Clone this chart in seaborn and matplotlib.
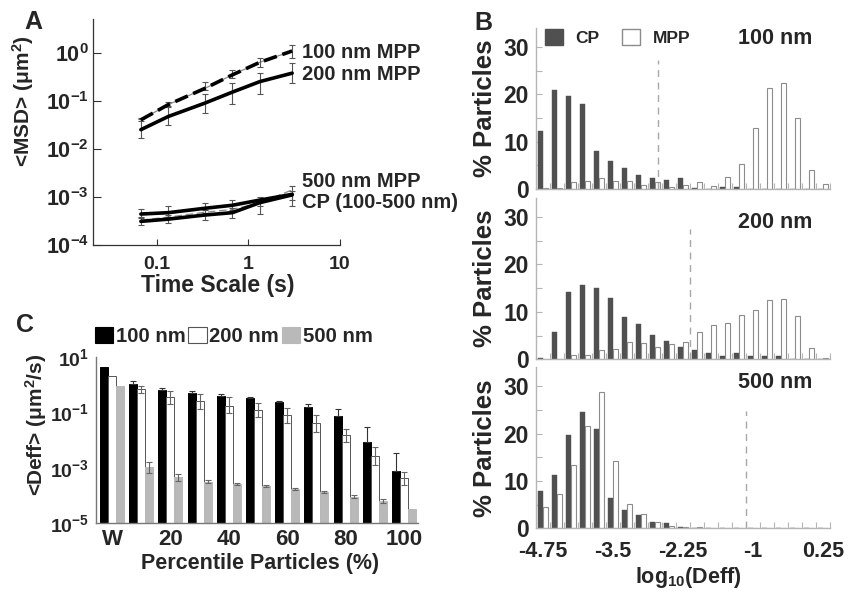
import numpy as np
import pandas as pd
import matplotlib
matplotlib.use("Agg")
import matplotlib.pyplot as plt
from matplotlib.patches import Patch
from matplotlib.ticker import NullLocator, FixedLocator
from matplotlib.transforms import ScaledTranslation
import seaborn as sns

# ---------------- Panel A data: MSD vs time scale ----------------
time_s = [0.0667, 0.133, 0.333, 0.667, 1.333, 3.0]
msd_100_mpp = [0.040, 0.083, 0.18, 0.345, 0.63, 1.08]
msd_100_lo = [0.037, 0.078, 0.17, 0.295, 0.50, 0.79]
msd_100_hi = [0.043, 0.095, 0.24, 0.44, 0.79, 1.44]
msd_200_mpp = [0.025, 0.047, 0.089, 0.151, 0.25, 0.374]
msd_200_lo = [0.017, 0.031, 0.056, 0.085, 0.138, 0.23]
msd_200_hi = [0.042, 0.073, 0.138, 0.23, 0.37, 0.60]
msd_500_mpp = [4.4e-4, 4.7e-4, 5.8e-4, 6.7e-4, 8.6e-4, 1.13e-3]
msd_500_lo = [3.6e-4, 3.9e-4, 4.6e-4, 5.3e-4, 6.6e-4, 8.5e-4]
msd_500_hi = [5.5e-4, 6.5e-4, 7.4e-4, 8.5e-4, 1.0e-3, 1.7e-3]
msd_cp = [3.1e-4, 3.45e-4, 4.2e-4, 4.7e-4, 7.6e-4, 1.1e-3]
msd_cp_lo = [2.6e-4, 2.9e-4, 3.3e-4, 3.6e-4, 4.5e-4, 6.5e-4]
msd_cp_hi = [3.8e-4, 4.3e-4, 5.3e-4, 6.0e-4, 8.5e-4, 1.3e-3]
msd_cp_alt = [3.3e-4, 3.8e-4, 4.8e-4, 5.5e-4, 7.5e-4, 1.4e-3]
labels_a = ["100 nm MPP", "200 nm MPP", "500 nm MPP", "CP (100-500 nm)"]

# ---------------- Panel B data: distributions of log10(Deff) ----------------
log_deff_bins = [-4.75, -4.5, -4.25, -4.0, -3.75, -3.5, -3.25, -3.0, -2.75, -2.5, -2.25,
                 -2.0, -1.75, -1.5, -1.25, -1.0, -0.75, -0.5, -0.25, 0.0, 0.25]
cp_100 = [12.2, 21.0, 19.6, 17.9, 8.1, 5.9, 4.4, 3.0, 2.3, 2.0, 2.3,
          0.15, 0.1, 0.35, 0.35, 0, 0, 0, 0, 0, 0]
mpp_100 = [0.3, 0.3, 1.5, 1.7, 2.3, 1.7, 1.7, 0.85, 1.5, 0.5, 0.85,
           1.5, 0.7, 2.6, 5.3, 12.9, 21.4, 22.4, 15.0, 4.1, 1.1]
cp_200 = [0.35, 5.7, 14.1, 15.6, 15.0, 13.0, 8.9, 7.5, 5.1, 3.8, 2.6,
          2.0, 1.3, 0.7, 1.3, 0.6, 0.7, 0.6, 0, 0, 0]
mpp_200 = [0, 0, 1.0, 1.0, 1.9, 2.1, 3.6, 3.4, 2.5, 3.2, 3.6,
           5.8, 7.3, 7.7, 9.4, 10.4, 12.6, 12.8, 9.1, 2.3, 0.2]
cp_500 = [7.9, 11.3, 19.7, 24.5, 20.9, 6.4, 3.8, 2.8, 1.3, 1.1, 0.2,
          0.15, 0, 0, 0, 0, 0, 0, 0, 0, 0]
mpp_500 = [4.4, 7.2, 13.4, 21.6, 28.7, 14.3, 5.1, 3.0, 1.4, 0.4, 0.25,
           0.2, 0, 0, 0, 0, 0, 0, 0, 0, 0]
thresholds = [-2.70, -2.125, -1.125]
threshold_tops = [27.3, 27.4, 24.7]
size_labels_b = ["100 nm", "200 nm", "500 nm"]
b_xtick_vals = [-4.75, -3.5, -2.25, -1.0, 0.25]
b_xtick_labels = ["-4.75", "-3.5", "-2.25", "-1", "0.25"]

# ---------------- Panel C data: <Deff> by percentile ----------------
percentiles = ["W", "10", "20", "30", "40", "50", "60", "70", "80", "90", "100"]
deff_100 = [4.1, 1.04, 0.63, 0.50, 0.40, 0.32, 0.24, 0.16, 0.073, 0.0083, 0.00076]
deff_100_hi = [4.1, 1.33, 0.77, 0.58, 0.45, 0.34, 0.26, 0.19, 0.134, 0.030, 0.0033]
deff_200 = [2.07, 0.66, 0.34, 0.26, 0.17, 0.12, 0.079, 0.040, 0.015, 0.0026, 0.00042]
deff_200_lo = [2.07, 0.48, 0.197, 0.13, 0.091, 0.065, 0.042, 0.020, 0.0087, 0.00126, 0.00024]
deff_200_hi = [2.07, 0.88, 0.58, 0.45, 0.34, 0.22, 0.146, 0.079, 0.025, 0.0054, 0.00072]
deff_500 = [0.88, 0.00104, 0.00045, 0.00032, 0.00026, 0.00022, 0.00017, 0.00013,
            0.000091, 0.000065, 0.0000316]
deff_500_lo = [0.88, 0.00063, 0.00034, 0.00028, 0.00023, 0.000204, 0.000162, 0.000120,
               0.0000795, 0.0000555, 0.0000316]
deff_500_hi = [0.88, 0.00166, 0.00062, 0.00036, 0.00029, 0.00024, 0.000186, 0.000141,
               0.000105, 0.0000776, 0.0000316]
sizes_c = ["100 nm", "200 nm", "500 nm"]

# ---------------- style ----------------
sns.set_theme(style="ticks")
plt.rcParams.update({
    "font.family": ["Liberation Sans", "DejaVu Sans"],
    "font.weight": "bold",
    "axes.labelweight": "bold",
    "mathtext.fontset": "custom",
    "mathtext.rm": "Liberation Sans:bold",
    "mathtext.bf": "Liberation Sans:bold",
    "mathtext.it": "Liberation Sans:bold:italic",
    "mathtext.sf": "Liberation Sans:bold",
    "mathtext.default": "rm",
    "axes.unicode_minus": False,
    "xtick.direction": "in",
    "ytick.direction": "in",
})

W, H = 849, 593
fig = plt.figure(figsize=(W / 100, H / 100), dpi=100)
fig.patch.set_facecolor("white")


def fx(px):
    return px / W


def fy(py):
    return 1 - py / H


def shift_labels(labels, dy_pt):
    for lab in labels:
        lab.set_transform(lab.get_transform() + ScaledTranslation(0, dy_pt / 72, fig.dpi_scale_trans))


# ================= Panel A =================
axA = fig.add_axes([fx(93), fy(245), (340 - 93) / W, (245 - 19) / H])
series_a = [
    (msd_100_mpp, msd_100_lo, msd_100_hi, "dash"),
    (msd_200_mpp, msd_200_lo, msd_200_hi, "solid"),
    (msd_500_mpp, msd_500_lo, msd_500_hi, "solid"),
    (msd_cp, msd_cp_lo, msd_cp_hi, "solid"),
]
sns.lineplot(x=time_s, y=msd_cp_alt, ax=axA, color="#8a8a8a", linewidth=0.9,
             linestyle=(0, (6, 3)), legend=False)
sns.lineplot(x=time_s, y=msd_100_mpp, ax=axA, color="#8a8a8a", linewidth=0.9, legend=False)
for vals, lo, hi, style in series_a:
    v = np.array(vals)
    err = [v - np.array(lo), np.array(hi) - v]
    axA.errorbar(time_s, vals, yerr=err, fmt="none", ecolor="#555555",
                 elinewidth=0.8, capsize=2.5, capthick=0.8, zorder=3)
    ls = (0, (3.8, 1.6)) if style == "dash" else "-"
    sns.lineplot(x=time_s, y=vals, ax=axA, color="black", linewidth=2.6,
                 linestyle=ls, legend=False, zorder=4)
axA.set_xscale("log")
axA.set_yscale("log")
axA.set_xlim(0.02, 10)
axA.set_ylim(1e-4, 5)
axA.xaxis.set_major_locator(FixedLocator([0.1, 1, 10]))
axA.xaxis.set_minor_locator(NullLocator())
axA.yaxis.set_major_locator(FixedLocator([1e-4, 1e-3, 1e-2, 1e-1, 1]))
axA.yaxis.set_minor_locator(NullLocator())
axA.set_xticklabels(["0.1", "1", "10"], fontsize=14)
axA.set_yticklabels([r"$10^{-4}$", r"$10^{-3}$", r"$10^{-2}$", r"$10^{-1}$", r"$10^{0}$"], fontsize=15.5)
shift_labels(axA.get_yticklabels(), -3.5)
axA.tick_params(axis="y", length=6, width=0.8, color="#333333", pad=3)
axA.tick_params(axis="x", length=4.5, width=0.8, color="#333333", pad=8)
for s in ["top", "right"]:
    axA.spines[s].set_visible(False)
for s in ["left", "bottom"]:
    axA.spines[s].set_color("#333333")
    axA.spines[s].set_linewidth(0.9)
axA.set_xlabel("Time Scale (s)", fontsize=16.5)
axA.xaxis.set_label_coords((218 - 93) / (340 - 93), -(285 - 245) / (245 - 19))
axA.xaxis.label.set_va("center")
axA.set_ylabel(r"<MSD> ($\mu$m$^{2}$)", fontsize=15, va="center")
axA.yaxis.set_label_coords((23 - 93) / (340 - 93), (245 - 101) / (245 - 19))
label_y_a = [52, 75, 182, 203]
for txt, py in zip(labels_a, label_y_a):
    fig.text(fx(302), fy(py), txt, fontsize=14.5, fontweight="bold", va="center", ha="left")
fig.text(fx(33), fy(22), "A", fontsize=18, fontweight="bold", ha="center", va="center")

# ================= Panel B =================
b_tops = [28, 198, 367.3]
b_bottoms = [189, 359.3, 528.3]
cp_list = [cp_100, cp_200, cp_500]
mpp_list = [mpp_100, mpp_200, mpp_500]
size_text_y = [38, 222, 383]
palette_b = {"CP": "#505050", "MPP": "white"}
axes_b = []
for i in range(3):
    ax = fig.add_axes([fx(536), fy(b_bottoms[i]), 294 / W, (b_bottoms[i] - b_tops[i]) / H])
    axes_b.append(ax)
    df = pd.DataFrame({
        "log_deff": log_deff_bins * 2,
        "pct": cp_list[i] + mpp_list[i],
        "type": ["CP"] * len(log_deff_bins) + ["MPP"] * len(log_deff_bins),
    })
    sns.barplot(data=df, x="log_deff", y="pct", hue="type", hue_order=["CP", "MPP"],
                native_scale=True, width=0.68, palette=palette_b, errorbar=None,
                legend=False, ax=ax)
    for bar in ax.containers[0]:
        bar.set_edgecolor("#505050")
        bar.set_linewidth(0.3)
    for bar in ax.containers[1]:
        bar.set_edgecolor("#8c8c8c")
        bar.set_linewidth(0.8)
    ax.vlines(thresholds[i], 0, threshold_tops[i], colors="#a8a8a8",
              linestyles=(0, (5, 4)), linewidth=1.0, zorder=5)
    ax.set_xlim(-4.875, 0.375)
    ax.set_ylim(0, 34)
    ax.set_xticks(b_xtick_vals)
    ax.set_xticks(np.array(log_deff_bins) + 0.125, minor=True)
    ax.yaxis.set_major_locator(FixedLocator([0, 10, 20, 30]))
    ax.yaxis.set_minor_locator(FixedLocator([5, 15, 25]))
    ax.set_yticklabels(["0", "10", "20", "30"], fontsize=16.5)
    if i == 2:
        ax.set_xticklabels(b_xtick_labels, fontsize=15.5)
        ax.set_xlabel(r"log$_{10}$(Deff)", fontsize=15.5)
        ax.xaxis.set_label_coords((688 - 536) / 294, -(578 - 528.3) / 161)
        ax.xaxis.label.set_va("center")
        ax.tick_params(axis="x", which="major", length=0, pad=9.5)
        shift_labels(ax.get_yticklabels()[:1], 1.5)
    else:
        ax.set_xticklabels([])
        ax.set_xlabel("")
        ax.tick_params(axis="x", which="major", length=0)
    ax.tick_params(axis="x", which="minor", length=4, width=0.8, color="#b5b5b5")
    ax.tick_params(axis="y", which="major", length=4.5, width=0.8, color="#b5b5b5", pad=5)
    ax.tick_params(axis="y", which="minor", length=4.5, width=0.8, color="#b5b5b5")
    for s in ["top", "right"]:
        ax.spines[s].set_visible(False)
    for s in ["left", "bottom"]:
        ax.spines[s].set_color("#b5b5b5")
        ax.spines[s].set_linewidth(1.0)
    ax.set_ylabel("% Particles", fontsize=18.5, va="center")
    ax.yaxis.set_label_coords((485 - 536) / 294, 0.5)
    fig.text(fx(738), fy(size_text_y[i]), size_labels_b[i], fontsize=15.5,
             fontweight="bold", ha="left", va="center")

handles_b = [Patch(facecolor="#505050", edgecolor="#505050", label="CP"),
             Patch(facecolor="white", edgecolor="#8c8c8c", label="MPP")]
axes_b[0].legend(handles=handles_b, ncol=2, loc="lower left",
                 bbox_to_anchor=(fx(545), fy(46)), bbox_transform=fig.transFigure,
                 frameon=False, handlelength=1.05, handleheight=1.0, handletextpad=0.7,
                 columnspacing=1.3, borderpad=0, borderaxespad=0,
                 prop={"size": 12.5, "weight": "bold"})
fig.text(fx(483), fy(23), "B", fontsize=18, fontweight="bold", ha="center", va="center")

# ================= Panel C =================
axC = fig.add_axes([fx(95.7), fy(523.3), (418 - 95.7) / W, (523.3 - 356.7) / H])
df_c = pd.DataFrame({
    "pct": percentiles * 3,
    "deff": deff_100 + deff_200 + deff_500,
    "size": ["100 nm"] * 11 + ["200 nm"] * 11 + ["500 nm"] * 11,
})
palette_c = {"100 nm": "black", "200 nm": "white", "500 nm": "#b9b9b9"}
sns.barplot(data=df_c, x="pct", y="deff", hue="size", order=percentiles, hue_order=sizes_c,
            palette=palette_c, width=0.82, errorbar=None, legend=False, ax=axC)
edge_c = ["black", "#555555", "#b9b9b9"]
for cont, ec in zip(axC.containers, edge_c):
    for bar in cont:
        bar.set_edgecolor(ec)
        bar.set_linewidth(0.7)
axC.set_yscale("log")
axC.set_ylim(1e-5, 10)
axC.set_xlim(-0.56, 10.48)

err_specs = [
    (deff_100, deff_100, deff_100_hi, "#333333"),
    (deff_200, deff_200_lo, deff_200_hi, "#666666"),
    (deff_500, deff_500_lo, deff_500_hi, "#666666"),
]
for cont, (vals, lo, hi, col) in zip(axC.containers, err_specs):
    xs = [b.get_x() + b.get_width() / 2 for b in cont]
    v = np.array(vals[1:])
    err = [v - np.array(lo[1:]), np.array(hi[1:]) - v]
    keep = (err[0] > 0) | (err[1] > 0)
    axC.errorbar(np.array(xs[1:])[keep], v[keep], yerr=[err[0][keep], err[1][keep]],
                 fmt="none", ecolor=col, elinewidth=0.8, capsize=2.2, capthick=0.8, zorder=4)

axC.xaxis.set_major_locator(FixedLocator([0, 2, 4, 6, 8, 10]))
axC.set_xticklabels(["W", "20", "40", "60", "80", "100"], fontsize=16)
axC.yaxis.set_major_locator(FixedLocator([1e-5, 1e-3, 1e-1, 10]))
axC.yaxis.set_minor_locator(NullLocator())
axC.set_yticklabels([r"$10^{-5}$", r"$10^{-3}$", r"$10^{-1}$", r"$10^{1}$"], fontsize=14)
shift_labels(axC.get_yticklabels(), -3.5)
axC.tick_params(axis="both", length=0)
axC.tick_params(axis="x", pad=4)
axC.tick_params(axis="y", pad=5)
for s in ["top", "right"]:
    axC.spines[s].set_visible(False)
for s in ["left", "bottom"]:
    axC.spines[s].set_color("#777777")
    axC.spines[s].set_linewidth(1.0)
axC.set_xlabel("Percentile Particles (%)", fontsize=15.5)
axC.xaxis.set_label_coords((260 - 95.7) / (418 - 95.7), -(564 - 523.3) / (523.3 - 356.7))
axC.xaxis.label.set_va("center")
axC.set_ylabel(r"<Deff> ($\mu$m$^{2}$/s)", fontsize=15, va="center")
axC.yaxis.set_label_coords((36 - 95.7) / (418 - 95.7), (523.3 - 425) / (523.3 - 356.7))

handles_c = [Patch(facecolor=palette_c[s], edgecolor=ec, linewidth=0.8, label=s)
             for s, ec in zip(sizes_c, ["black", "#555555", "#b9b9b9"])]
axC.legend(handles=handles_c, ncol=3, loc="lower left",
           bbox_to_anchor=(fx(95), fy(346)), bbox_transform=fig.transFigure,
           frameon=False, handlelength=0.9, handleheight=0.85, handletextpad=0.12,
           columnspacing=0.15, borderpad=0, borderaxespad=0,
           prop={"size": 14.6, "weight": "bold"})
fig.text(fx(25), fy(325), "C", fontsize=18, fontweight="bold", ha="center", va="center")

fig.savefig("out.png", dpi=100, facecolor="white")
